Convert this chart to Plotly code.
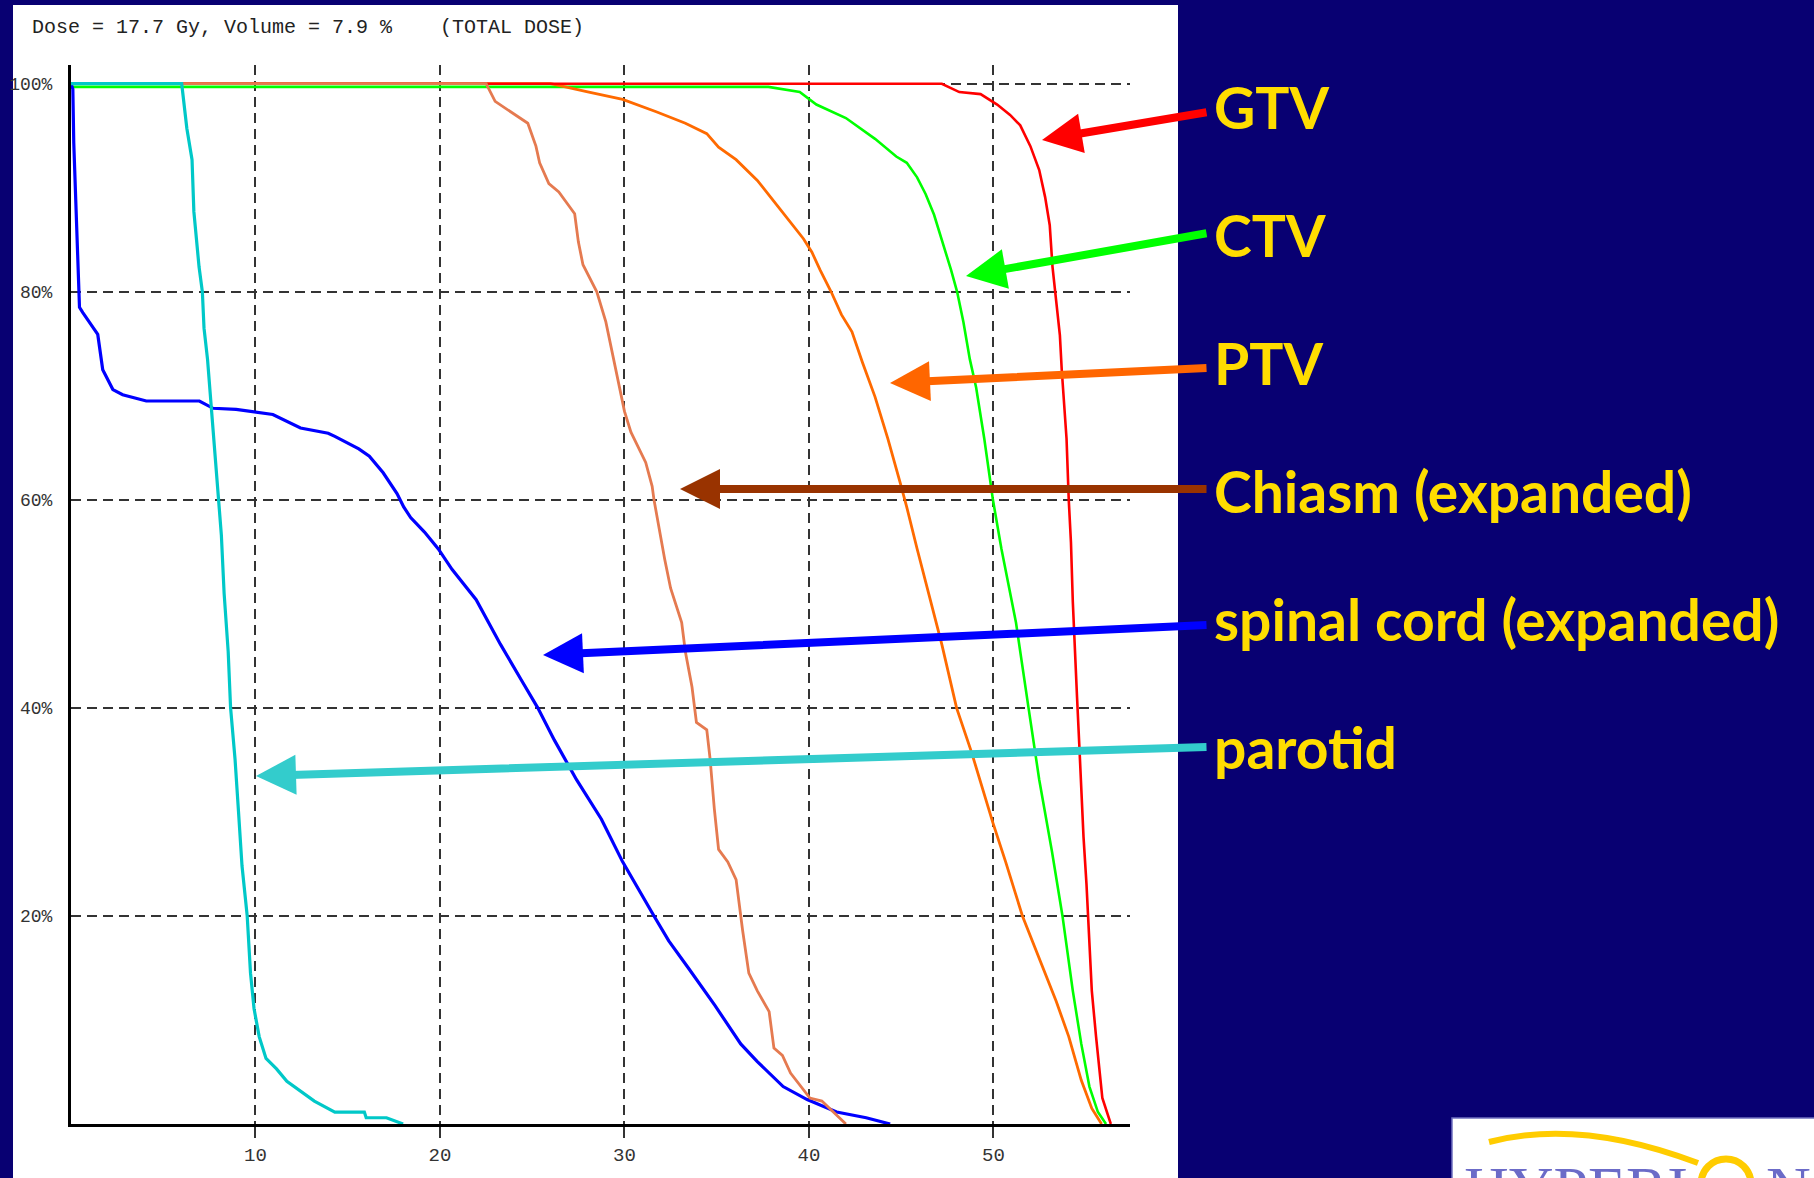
import plotly.graph_objects as go

# ---------------- data (dose in Gy, volume in %) ----------------
parotid_dose = [0, 6.0, 6.28, 6.56, 6.66, 6.94, 7.12, 7.21, 7.40, 7.59, 7.78, 7.96, 8.15, 8.30,
                8.52, 8.65, 8.89, 9.08, 9.27, 9.55, 9.73, 9.92, 10.2, 10.57, 11.14, 11.70,
                12.44, 13.19, 14.3, 15.9, 16.0, 17.1, 18.0]
parotid_vol = [100, 100, 95.7, 92.7, 87.7, 82.4, 80.0, 76.5, 73.5, 69.2, 64.9, 60.0, 56.6, 51.0,
               45.4, 40.0, 35.1, 30.0, 24.8, 20.0, 14.5, 11.1, 8.4, 6.3, 5.3, 4.1,
               3.2, 2.2, 1.15, 1.15, 0.6, 0.6, 0.0]

spinal_dose = [0, 0.1, 0.15, 0.25, 0.34, 0.46, 0.64, 1.45, 1.72, 2.27, 2.8, 4.08, 6.96, 7.7,
               8.95, 10.94, 12.44, 13.94, 14.3, 15.6, 16.17, 16.92, 17.67, 18.04, 18.41,
               19.16, 19.9, 20.66, 21.96, 23.28, 24.4, 25.3, 26.2, 27.4, 28.75, 29.9, 31.6,
               32.4, 33.5, 34.9, 36.3, 37.2, 38.6, 39.9, 41.5, 43.1, 44.4]
spinal_vol = [100, 99.5, 94.3, 89.0, 83.7, 78.5, 78.0, 75.9, 72.5, 70.6, 70.1, 69.5, 69.5, 68.8,
              68.7, 68.2, 66.9, 66.4, 66.1, 64.9, 64.2, 62.6, 60.6, 59.3, 58.3,
              56.9, 55.3, 53.3, 50.4, 46.1, 42.7, 40.0, 36.9, 33.1, 29.3, 25.2, 20.0,
              17.6, 14.9, 11.4, 7.7, 6.0, 3.6, 2.35, 1.15, 0.6, 0.0]

chiasm_dose = [0, 22.5, 22.99, 23.83, 24.76, 25.2, 25.4, 25.9, 26.44, 27.3, 27.5, 27.75, 28.5,
               28.99, 29.44, 30.0, 30.35, 31.15, 31.5, 31.6, 32.18, 32.5, 33.1, 33.3, 33.66,
               33.9, 34.46, 34.64, 34.87, 35.1, 35.6, 36.05, 36.4, 36.74, 37.2, 37.84, 38.1,
               38.56, 39.0, 40.05, 40.7, 42.0]
chiasm_vol = [100, 100, 98.3, 97.3, 96.2, 94.0, 92.4, 90.4, 89.6, 87.5, 84.8, 82.6, 80.0,
              77.1, 73.2, 68.5, 66.5, 63.6, 61.3, 60.0, 54.3, 51.5, 48.2, 45.4, 42.0,
              38.6, 37.9, 35.1, 30.3, 26.4, 25.2, 23.5, 18.65, 14.5, 12.8, 10.8, 7.3,
              6.6, 4.9, 2.5, 2.2, 0.0]

ptv_dose = [0, 26.0, 28.07, 29.9, 31.72, 33.3, 34.46, 35.1, 36.05, 37.2, 38.1, 39.0, 39.7,
            40.16, 40.6, 41.2, 41.76, 42.33, 42.9, 43.58, 44.27, 44.95, 45.3, 45.86, 46.4,
            47.2, 48.0, 48.8, 49.97, 50.66, 51.57, 52.5, 53.4, 54.08, 54.76, 55.33, 55.86]
ptv_vol = [100, 100, 99.2, 98.5, 97.3, 96.2, 95.2, 93.9, 92.7, 90.7, 88.7, 86.7, 85.1,
           83.8, 82.1, 80.0, 77.8, 76.15, 73.2, 69.9, 65.9, 61.6, 59.3, 55.3, 51.5,
           46.1, 40.0, 35.8, 28.95, 25.2, 20.0, 15.9, 11.8, 8.4, 4.2, 1.5, 0.0]

ctv_dose = [0, 37.8, 39.5, 40.4, 42.0, 43.58, 44.73, 45.3, 45.86, 46.32, 46.78, 47.24, 47.7,
            48.03, 48.37, 48.72, 49.06, 49.5, 49.97, 50.43, 50.85, 51.22, 51.9, 52.48, 53.17,
            53.74, 54.3, 54.76, 55.2, 55.66, 56.1]
ctv_vol = [99.7, 99.7, 99.2, 98.0, 96.7, 94.7, 93.0, 92.4, 91.0, 89.4, 87.4, 84.8, 82.1,
           80.0, 77.1, 73.5, 70.8, 65.9, 60.0, 55.3, 51.5, 48.2, 40.0, 33.1, 26.2,
           20.0, 12.8, 7.7, 3.6, 1.15, 0.0]

gtv_dose = [0, 47.2, 48.15, 49.3, 50.2, 50.9, 51.45, 52.0, 52.48, 52.8, 53.05, 53.2, 53.4,
            53.6, 53.7, 53.85, 53.96, 54.08, 54.2, 54.3, 54.4, 54.53, 54.65, 54.88, 55.04,
            55.18, 55.33, 55.56, 55.8, 55.9, 56.36]
gtv_vol = [100, 100, 99.2, 99.0, 98.0, 97.0, 96.0, 94.0, 91.7, 89.1, 86.4, 82.4, 79.1,
           75.8, 72.5, 69.2, 65.9, 60.0, 55.9, 50.2, 45.4, 41.0, 36.5, 27.6, 23.1,
           18.0, 12.8, 8.4, 4.6, 2.5, 0.0]

x_tick_vals = [10, 20, 30, 40, 50]
x_tick_text = ["10", "20", "30", "40", "50"]
y_tick_vals = [20, 40, 60, 80, 100]
y_tick_text = ["20%", "40%", "60%", "80%", "100%"]

label_texts = ["GTV", "CTV", "PTV", "Chiasm (expanded)", "spinal cord (expanded)", "parotid"]
header_text = "Dose = 17.7 Gy, Volume = 7.9 %    (TOTAL DOSE)"

# ---------------- layout geometry ----------------
FIG_W, FIG_H = 1814, 1178
L, R, T, B = 71, 684, 65, 54
PW = FIG_W - L - R
PH = FIG_H - T - B
X_MAX = 57.4
Y_MAX = 101.8


def px_x(px):
    return (px - L) / PW


def px_y(py):
    return (FIG_H - B - py) / PH


NAVY = "#080072"
YELLOW = "#FFDD00"

# drawing order (later = on top)
curve_specs = [
    (ctv_dose, ctv_vol, "#00FF00", 2.6),
    (ptv_dose, ptv_vol, "#FF6A00", 2.8),
    (gtv_dose, gtv_vol, "#FF0000", 2.6),
    (spinal_dose, spinal_vol, "#0000FF", 3.2),
    (chiasm_dose, chiasm_vol, "#E57A50", 2.8),
    (parotid_dose, parotid_vol, "#00C8C8", 3.2),
]

fig = go.Figure()
for xs, ys, col, w in curve_specs:
    fig.add_trace(go.Scatter(x=xs, y=ys, mode="lines", line=dict(color=col, width=w),
                             showlegend=False, hoverinfo="skip"))

shapes = [
    # white slide panel behind the chart
    dict(type="rect", xref="paper", yref="paper", x0=px_x(13), x1=px_x(1178),
         y0=px_y(1190), y1=px_y(5), fillcolor="white", line=dict(width=0), layer="below"),
    # logo box
    dict(type="rect", xref="paper", yref="paper", x0=px_x(1452), x1=px_x(1830),
         y0=px_y(1190), y1=px_y(1118), fillcolor="white",
         line=dict(color="#7070C0", width=1.5), layer="above"),
    # logo arc
    dict(type="path", xref="paper", yref="paper",
         path="M {},{} Q {},{} {},{}".format(px_x(1489), px_y(1142), px_x(1580), px_y(1118),
                                             px_x(1698), px_y(1163)),
         line=dict(color="#FFCC00", width=6), layer="above"),
    # logo ring
    dict(type="circle", xref="paper", yref="paper", x0=px_x(1701), x1=px_x(1751),
         y0=px_y(1209), y1=px_y(1159), line=dict(color="#FFCC00", width=7), layer="above"),
]

annotations = [
    dict(text=header_text, xref="paper", yref="paper", x=px_x(30), y=px_y(27),
         xanchor="left", yanchor="middle", showarrow=False,
         font=dict(family="Liberation Mono", size=20, color="#222222")),
    dict(text="HYPERI", xref="paper", yref="paper", x=px_x(1462), y=px_y(1152),
         xanchor="left", yanchor="top", showarrow=False,
         font=dict(family="Liberation Serif", size=62, color="#6B6BC8")),
    dict(text="N", xref="paper", yref="paper", x=px_x(1764), y=px_y(1152),
         xanchor="left", yanchor="top", showarrow=False,
         font=dict(family="Liberation Serif", size=62, color="#6B6BC8")),
]

# arrows: head (px), tail (px)
arrow_colors = ["#FF0000", "#00FF00", "#FF6600", "#993300", "#0000FF", "#33CCCC"]
arrow_heads = [(1042, 140), (966, 276), (890, 383), (680, 489), (543, 655), (256, 776)]
arrow_tails = [(1208, 112), (1208, 233), (1208, 368), (1208, 489), (1208, 625), (1208, 747)]
label_y = [107, 235, 363, 491, 619, 747]

for col, (hx, hy), (tx, ty) in zip(arrow_colors, arrow_heads, arrow_tails):
    annotations.append(dict(text="", xref="paper", yref="paper", x=px_x(hx), y=px_y(hy),
                            ax=tx - hx, ay=ty - hy, showarrow=True, arrowhead=2,
                            arrowsize=1.0, arrowwidth=8, arrowcolor=col, standoff=0))

for txt, ly in zip(label_texts, label_y):
    annotations.append(dict(text=txt, xref="paper", yref="paper", x=px_x(1212), y=px_y(ly),
                            xanchor="left", yanchor="middle", showarrow=False,
                            font=dict(family="Lato", size=57, color=YELLOW, weight=700)))

fig.update_layout(
    width=FIG_W, height=FIG_H,
    margin=dict(l=L, r=R, t=T, b=B, autoexpand=False),
    paper_bgcolor=NAVY, plot_bgcolor="white",
    shapes=shapes, annotations=annotations,
    xaxis=dict(range=[0, X_MAX], tickvals=x_tick_vals, ticktext=x_tick_text,
               showgrid=True, gridcolor="#333333", gridwidth=1.5, griddash="10px,6px",
               showline=True, linecolor="black", linewidth=3, zeroline=False,
               ticks="outside", ticklen=11, tickwidth=1.5, tickcolor="#333333",
               ticklabelstandoff=0,
               tickfont=dict(family="Liberation Mono", size=19, color="#333333")),
    yaxis=dict(range=[0, Y_MAX], tickvals=y_tick_vals, ticktext=y_tick_text,
               showgrid=True, gridcolor="#333333", gridwidth=1.5, griddash="10px,6px",
               showline=True, linecolor="black", linewidth=3, zeroline=False,
               ticks="", ticklabelstandoff=12,
               tickfont=dict(family="Liberation Mono", size=18, color="#333333")),
)

fig.write_html("out.html", config={"displayModeBar": False},
               post_script="document.body.style.margin='0';")
